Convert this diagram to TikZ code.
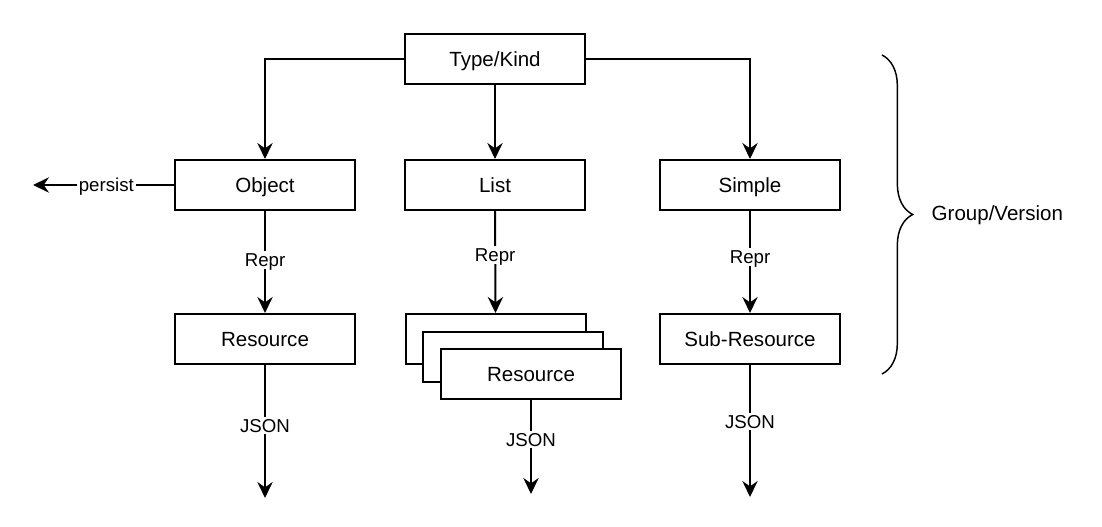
\documentclass[tikz,border=0pt]{standalone}
\usepackage{fontspec}
\setmainfont{Liberation Sans}
\usepackage{tikz}
\usetikzlibrary{arrows.meta}
\usetikzlibrary{decorations,decorations.pathreplacing}
\tikzstyle{box}=[draw, line width=1.5pt, fill=white, minimum width=135pt, minimum height=37.5pt, inner sep=0pt, text height=11pt, text depth=0pt, font=\fontsize{15.4}{18}\selectfont]
\tikzstyle{arr}=[line width=1.5pt, -{Stealth[length=12pt, width=11.5pt, inset=4pt]}]
\tikzstyle{lbl}=[fill=white, inner sep=1.5pt, text height=10pt, text depth=0pt, font=\fontsize{14}{16}\selectfont]
\begin{document}
\begin{tikzpicture}[x=0.75pt, y=-0.75pt]
	\useasboundingbox (0,0) rectangle (1102,527);
	\node[box] (kind) at (495,59) {Type/Kind};
	\node[box] (object) at (265,185) {Object};
	\node[box] (list) at (495,185) {List};
	\node[box] (simple) at (750,185) {Simple};
%
	\node[box] (res) at (265,339) {Resource};
	\node[box] (stackA) at (495.5,339) {};
	\node[box] (stackB) at (513,357) {};
	\node[box] (stackC) at (531,374) {Resource};
	\node[box] (subres) at (750,339) {Sub-Resource};
%
	\draw[arr] (kind.west) -| (object.north);
	\draw[arr] (kind.south) -- (list.north);
	\draw[arr] (kind.east) -| (simple.north);
%
	\coordinate (store) at (33,185);
	\draw[arr] (object.west) -- node[lbl, pos=.48] (persist) {persist} (store);
%
	\draw[arr] (object.south) -- node[lbl, pos=.48] (reprA) {Repr} (res.north);
	\draw[arr] (list.south) -- node[lbl, pos=.43] (reprB) {Repr} (stackA.north);
	\draw[arr] (simple.south) -- node[lbl, pos=.45] (reprC) {Repr} (subres.north);
%
	\coordinate (outA) at (265,498);
	\coordinate (outB) at (531,494);
	\coordinate (outC) at (750,497);
	\draw[arr] (res.south) -- node[lbl, pos=.455] (jsonA) {JSON} (outA);
	\draw[arr] (stackC.south) -- node[lbl, pos=.42] (jsonB) {JSON} (outB);
	\draw[arr] (subres.south) -- node[lbl, pos=.43] (jsonC) {JSON} (outC);
%
	\draw[line width=1.1pt, decorate, decoration={brace, amplitude=23pt}] (882,55) -- (882,374);
	\node[anchor=west, font=\fontsize{15.4}{18}\selectfont] (group) at (927,215) {Group/Version};
\end{tikzpicture}
\end{document}
